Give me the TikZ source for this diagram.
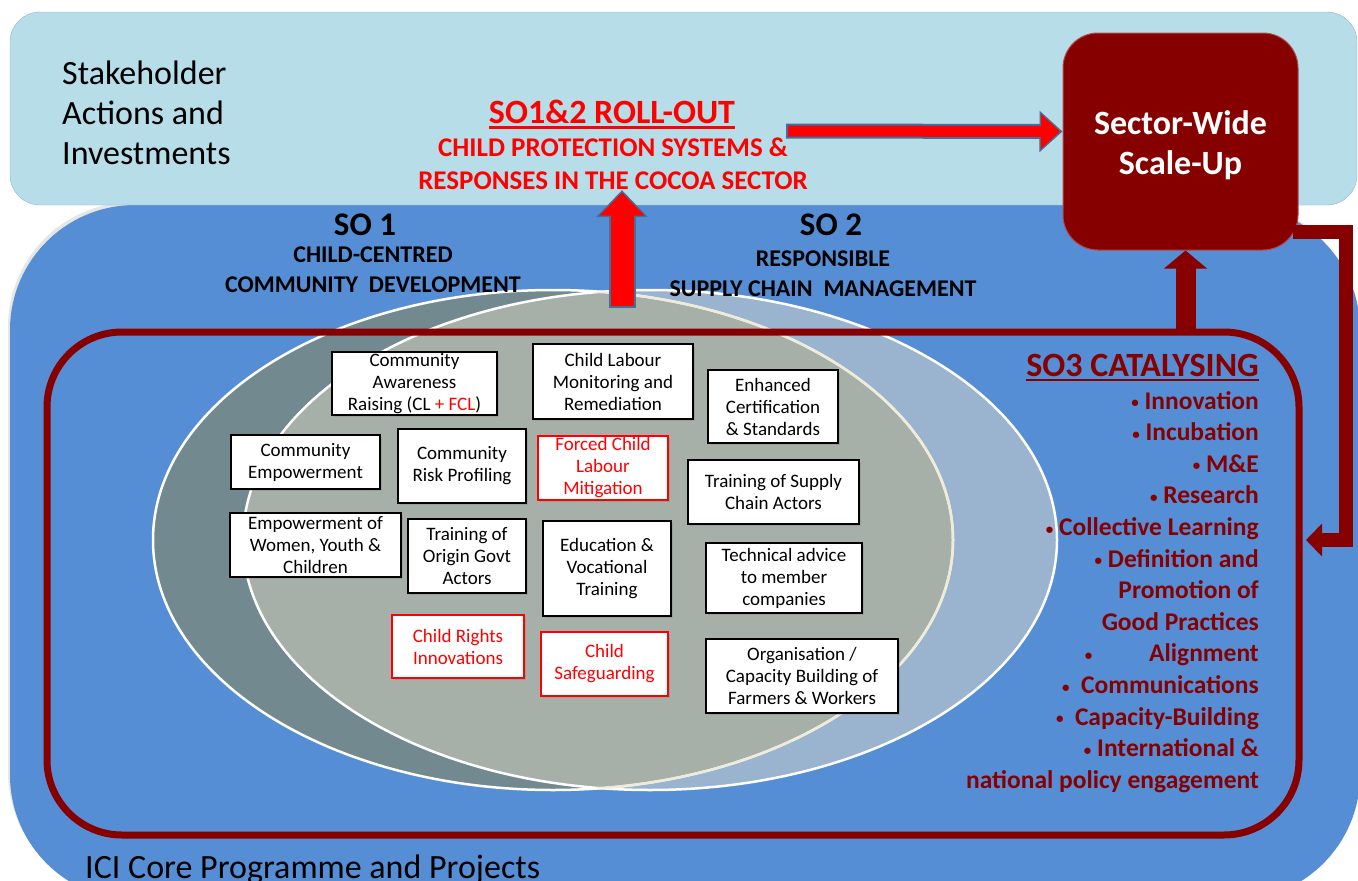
\documentclass[tikz,border=0pt]{standalone}
\usepackage{fontspec}
\setmainfont{Carlito}
\usetikzlibrary{arrows.meta,positioning,shadows}

\definecolor{skyband}{HTML}{B7DDE8}
\definecolor{skyedge}{HTML}{8FB4D6}
\definecolor{coreblue}{HTML}{558ED5}
\definecolor{soonefill}{HTML}{72898F}
\definecolor{sotwofill}{HTML}{9AB3CE}
\definecolor{overlapfill}{HTML}{A7B0A8}
\definecolor{cream}{HTML}{EEEBD9}
\definecolor{cocoared}{HTML}{870000}
\definecolor{arrowedge}{HTML}{41719C}

\newcommand{\px}[2]{\fontsize{#1}{#2}\selectfont}
\newcommand{\dotmark}{{\px{15}{15}\raisebox{1.5pt}{\textbullet}}}

\tikzset{
  plain/.style    ={inner sep=0pt,align=left,font=\px{34}{40}},
  act/.style      ={draw=black,fill=white,line width=1.3pt,align=center,inner sep=0pt,
                    font=\px{19}{22}},
  actred/.style   ={act,draw=red,text=red},
  shade/.style    ={drop shadow={shadow xshift=2pt,shadow yshift=-2pt,opacity=.35}},
  sohead/.style   ={inner sep=0pt,font=\bfseries\px{33}{36}},
  sosub/.style    ={inner sep=0pt,align=center,font=\bfseries\px{24}{30}},
  rolltitle/.style={inner sep=0pt,text=red,font=\bfseries\px{34}{38}},
  rollsub/.style  ={inner sep=0pt,text=red,align=center,font=\bfseries\px{27}{33}},
  cattitle/.style ={inner sep=0pt,text=cocoared,font=\bfseries\px{34}{38}},
  catlist/.style  ={inner sep=0pt,text=cocoared,align=right,font=\bfseries\px{25.5}{31.6}},
  so3frame/.style ={draw=cocoared,line width=7pt,rounded corners=75pt,inner sep=0pt},
  scalebox/.style ={fill=cocoared,draw=cocoared!70!white,line width=1pt,rounded corners=35pt,
                    text=white,align=center,font=\bfseries\px{34}{40}},
  rimline/.style  ={draw=white,line width=2.5pt},
  liftarrow/.style={-{Triangle[width=42pt,length=18pt]},line width=20pt,draw=cocoared},
  looparrow/.style={-{Triangle[width=32pt,length=16pt]},line width=14pt,draw=cocoared},
  rollrim/.style  ={-{Triangle[width=40pt,length=23pt]},draw=arrowedge},
  rollcore/.style ={-{Triangle[width=34pt,length=19pt]},draw=red,shorten >=2.5pt,shorten <=2pt},
}

\begin{document}
\begin{tikzpicture}[x=1pt,y=-1pt]
  \useasboundingbox (0,0) rectangle (1358,881);

  % programme backdrop and stakeholder band
  \fill[coreblue,rounded corners=125pt,
        drop shadow={shadow xshift=-2pt,shadow yshift=3pt,opacity=.2}] (10,205) rectangle (1360,900);
  \draw[skyedge,fill=skyband,rounded corners=30pt] (10,12) rectangle (1357,205);

  % SO1 / SO2 ellipses
  \fill[soonefill] (553,540) ellipse [x radius=400,y radius=250];
  \fill[sotwofill] (650,540) ellipse [x radius=407,y radius=250];
  \begin{scope}
    \clip (553,540) ellipse [x radius=400,y radius=250];
    \fill[overlapfill] (650,540) ellipse [x radius=407,y radius=250];
  \end{scope}
  \draw[rimline] (553,540) ellipse [x radius=400,y radius=250];
  \draw[rimline] (650,540) ellipse [x radius=407,y radius=250];
  \begin{scope}
    \clip (650,540) ellipse [x radius=407,y radius=250];
    \draw[rimline,draw=cream] (553,540) ellipse [x radius=400,y radius=250];
  \end{scope}

  \node[so3frame,minimum width=1252pt,minimum height=503pt] (so3) at (673,583.5) {};
  \node[scalebox,minimum width=235pt,minimum height=217pt] (scale) at (1180.5,141.5)
    {\rule{0pt}{32pt}Sector-Wide\\Scale-Up};

  % top band texts
  \node[plain,anchor=west] (stake) at (62,113) {Stakeholder\\Actions and\\Investments};
  \node[rolltitle] (roll) at (612,112) {SO1\&2 ROLL-OUT};
  \draw[red,line width=2.5pt] ([yshift=-4pt]roll.base west) -- ([yshift=-4pt]roll.base east);
  \node[rollsub] (rollsub) at (613,164)
    {CHILD PROTECTION SYSTEMS \&\\RESPONSES IN THE COCOA SECTOR};
  \coordinate (rollbase) at (622,308);
  \coordinate (rollout) at (786,131);

  % roll-out arrows
  \draw[rollrim,line width=27pt,-{Triangle[width=50pt,length=27pt]}] (rollbase) -- (rollbase |- rollsub.south);
  \draw[rollcore,line width=23pt,-{Triangle[width=44pt,length=23pt]}] (rollbase) -- (rollbase |- rollsub.south);
  \draw[rollrim,line width=15pt] (rollout) -- ([yshift=10pt]scale.west);
  \draw[rollcore,line width=11pt] (rollout) -- ([yshift=10pt]scale.west);

  % catalysing feedback
  \draw[liftarrow] ([xshift=5pt]so3.north -| scale.south) -- ([xshift=5pt]scale.south);
  \draw[looparrow,shorten <=-6pt,shorten >=3.5pt]
    ([yshift=-90.5pt]scale.east) -- ++(47,0) |- ([yshift=43.5pt]so3.east);

  \node[sohead] (so1) at (365,225) {SO 1};
  \node[sosub] (so1sub) at (373,270) {CHILD-CENTRED\\COMMUNITY\ \ DEVELOPMENT};
  \node[sohead] (so2) at (831,225) {SO 2};
  \node[sosub] (so2sub) at (823,273.5) {RESPONSIBLE\\SUPPLY CHAIN\ \ MANAGEMENT};

  % SO3 list
  \node[cattitle,anchor=base east] (cattitle) at (1259,376) {SO3 CATALYSING};
  \draw[cocoared,line width=2.5pt] ([yshift=-4pt]cattitle.base west) -- ([yshift=-4pt]cattitle.base east);
  \node[catlist,anchor=north east] (catlist) at (1259,391)
    {\dotmark{} Innovation\\
     \dotmark{} Incubation\\
     \dotmark{} M\&E\\
     \dotmark{} Research\\
     \dotmark{} Collective Learning\\
     \dotmark{} Definition and\\
     Promotion of\\
     Good Practices\\
     \dotmark\qquad\ Alignment\\
     \dotmark\ \ Communications\\
     \dotmark\ \ Capacity-Building\\
     \dotmark{} International \&\\
     national policy engagement};

  \node[plain,anchor=base west] (core) at (85,878) {ICI Core Programme and Projects};

  % activity boxes
  \begin{scope}[every node/.append style=shade]
  \node[act,minimum width=165pt,minimum height=63pt] (aware) at (414.5,383.5)
    {Community\\Awareness\\Raising (CL \textcolor{red}{+ FCL})};
  \node[act,minimum width=160pt,minimum height=75pt] (clmrs) at (613,381.5)
    {Child Labour\\Monitoring and\\Remediation};
  \node[act,minimum width=149pt,minimum height=54pt] (commemp) at (305.5,462)
    {Community\\Empowerment};
  \node[act,minimum width=128pt,minimum height=74pt] (risk) at (462,466)
    {Community\\Risk Profiling};
  \node[actred,minimum width=130pt,minimum height=64pt] (forced) at (603,468)
    {Forced Child\\Labour\\Mitigation};
  \node[act,minimum width=171pt,minimum height=64pt] (women) at (315.5,545)
    {Empowerment of\\Women, Youth \&\\Children};
  \node[act,minimum width=118pt,minimum height=74pt] (govt) at (467,556)
    {Training of\\Origin Govt\\Actors};
  \node[act,minimum width=128pt,minimum height=95pt] (edu) at (607,568.5)
    {Education \&\\Vocational\\Training};
  \node[actred,minimum width=132pt,minimum height=63pt] (rights) at (458,646.5)
    {Child Rights\\Innovations};
  \node[actred,minimum width=127pt,minimum height=64pt] (safe) at (604.5,664)
    {Child\\Safeguarding};
  \node[act,minimum width=130pt,minimum height=73pt] (cert) at (773,406.5)
    {Enhanced\\Certification\\\& Standards};
  \node[act,minimum width=171pt,minimum height=64pt] (supply) at (773.5,492)
    {Training of Supply\\Chain Actors};
  \node[act,minimum width=156pt,minimum height=70pt] (tech) at (784,578)
    {Technical advice\\to member\\companies};
  \node[act,minimum width=192pt,minimum height=74pt] (org) at (802,676)
    {Organisation /\\Capacity Building of\\Farmers \& Workers};
  \end{scope}
\end{tikzpicture}
\end{document}
